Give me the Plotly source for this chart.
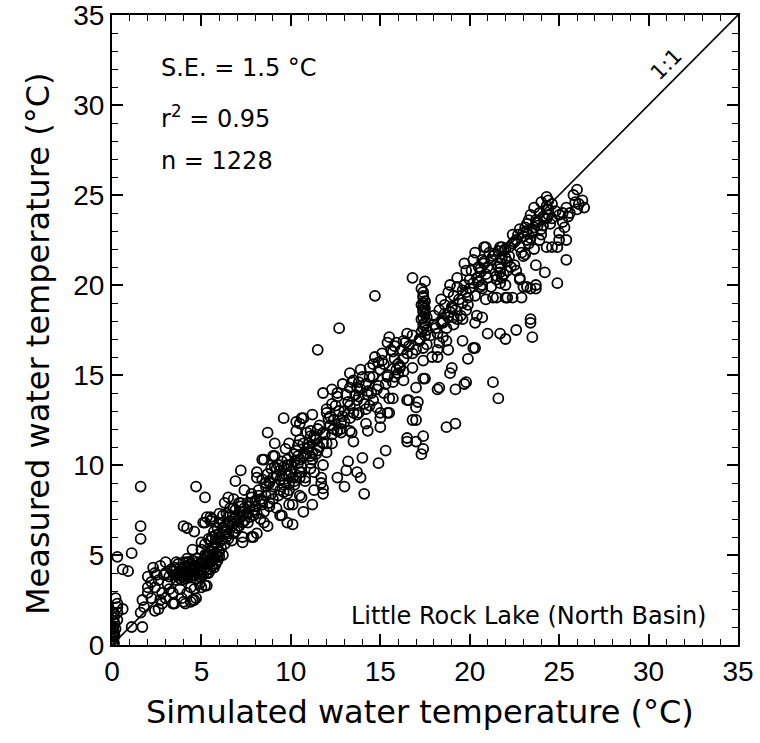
import plotly.graph_objects as go

# ---- data ----
# near-zero cluster
sim_zero = [0.05, 0.1, 0.05, 0.1, 0.05, 0.1, 0.05, 0.1, 0.15, 0.05, 0.1, 0.3, 0.3, 0.6, 0.3, 0.3, 0.2, 0.1, 0.1, 0.15, 0.2]
meas_zero = [0.0, 0.15, 0.3, 0.45, 0.6, 0.75, 0.9, 1.05, 1.2, 1.35, 1.5, 1.4, 1.8, 2.0, 2.1, 2.3, 2.6, 1.7, 0.05, 0.5, 0.9]

# scattered low points / outliers
sim_out = [1.6, 1.6, 1.6, 0.3, 1.1, 0.6, 0.9, 1.1, 1.7, 1.6, 2.4, 4.7, 5.2, 4.0, 4.2, 4.6]
meas_out = [8.8, 6.6, 5.9, 4.9, 5.1, 4.2, 4.1, 1.0, 1.0, 1.8, 1.9, 8.8, 8.2, 6.6, 6.5, 6.3]

# band 1.7 - 6.7 degC
sim_b1 = [1.7, 1.8, 2.0, 2.0, 2.0, 2.3, 2.4, 2.6, 2.7, 2.8, 2.8, 3.0, 3.1, 3.4, 3.4, 3.5, 3.6, 3.9, 4.0, 4.1,
          4.2, 4.4, 4.5, 4.6, 4.6, 4.7, 4.9, 5.0, 5.2, 5.3, 2.2, 2.5, 2.9, 3.2, 3.3, 3.5, 3.7, 3.8, 3.9, 4.0,
          4.1, 4.2, 4.3, 4.3, 4.4, 4.5, 4.6, 4.7, 4.8, 4.9, 5.0, 5.0, 5.1, 5.2, 5.3, 5.4, 5.5, 5.6, 5.7, 5.8,
          4.5, 4.2, 3.6, 3.4, 3.0, 2.7, 2.4, 2.2, 4.8, 5.9, 6.0, 6.2, 5.6, 6.1, 4.5, 4.2, 5.0, 5.2, 5.4, 5.8,
          6.3, 6.5, 6.7, 3.2, 3.8, 4.4, 2.6, 3.0, 3.9]
meas_b1 = [2.5, 2.1, 2.9, 3.2, 3.8, 4.3, 3.2, 3.6, 2.5, 2.3, 2.9, 4.6, 3.4, 2.3, 2.9, 2.3, 4.6, 3.6, 2.4, 2.3,
           2.9, 2.4, 2.5, 3.1, 2.5, 2.6, 3.4, 3.2, 3.3, 3.3, 2.6, 3.9, 3.9, 3.8, 4.2, 3.9, 4.0, 4.3, 3.8, 4.0,
           3.7, 4.1, 3.9, 4.4, 3.8, 4.1, 3.9, 4.3, 4.0, 3.8, 4.2, 4.5, 3.9, 4.3, 4.0, 4.6, 4.2, 4.4, 4.8, 4.5,
           4.7, 4.6, 3.6, 4.1, 4.0, 4.4, 4.0, 3.5, 4.6, 4.9, 5.2, 5.0, 5.4, 5.4, 5.3, 4.8, 5.7, 5.0, 5.2, 5.7,
           5.6, 5.9, 5.8, 3.1, 3.1, 3.2, 2.0, 2.6, 2.6]

# band 5 - 8.5 degC
sim_b2 = [5.1, 5.2, 5.3, 5.5, 5.5, 5.6, 5.6, 6.0, 6.2, 6.2, 6.3, 6.4, 6.5, 6.3, 6.0, 6.8, 6.8, 6.9, 6.9, 7.2,
          7.2, 7.2, 7.3, 7.3, 7.3, 7.4, 7.6, 7.7, 7.8, 7.9, 8.1, 7.0, 6.6, 6.7, 5.9, 5.7, 7.5, 7.9, 8.0, 7.8,
          7.1, 6.9, 6.6, 5.8, 6.4, 7.6, 8.3, 8.5]
meas_b2 = [6.8, 6.8, 7.1, 6.9, 7.1, 7.0, 6.0, 7.3, 6.8, 7.2, 7.9, 7.3, 8.2, 6.4, 6.2, 6.2, 8.1, 7.1, 9.1, 7.7,
           9.7, 7.1, 7.2, 5.7, 6.0, 8.6, 7.9, 7.7, 6.0, 6.0, 6.2, 6.5, 6.9, 6.6, 6.5, 6.3, 7.3, 7.2, 8.0, 8.4,
           7.9, 7.5, 7.6, 5.9, 6.0, 6.8, 7.0, 6.8]

# band 8 - 13 degC
sim_b3 = [8.1, 8.1, 8.3, 8.4, 8.4, 8.5, 8.7, 8.7, 8.8, 8.8, 8.8, 9.0, 9.0, 9.1, 9.1, 9.4, 9.4, 9.4, 9.5, 9.5,
          9.6, 9.8, 9.8, 9.8, 9.9, 9.9, 9.9, 10.1, 10.1, 10.1, 10.3, 10.3, 10.3, 10.5, 10.5, 10.5, 10.5, 10.5, 10.6, 10.6,
          10.7, 10.7, 10.7, 10.8, 10.9, 11.1, 11.1, 11.1, 11.2, 11.2, 11.2, 11.3, 11.5, 11.5, 11.7, 11.7, 11.8, 11.8, 11.8, 11.8,
          11.8, 12.0, 12.0, 12.0, 12.3, 12.3, 12.6, 12.6, 12.6, 8.6, 8.9, 9.2, 9.6, 9.7, 10.0, 10.2, 10.4, 10.9, 11.0, 11.4,
          8.2, 8.6, 9.3, 10.6, 10.2, 9.6, 12.2, 11.6, 12.4, 12.8, 11.3, 9.2, 8.5]
meas_b3 = [9.3, 9.6, 8.1, 9.2, 10.3, 10.3, 6.6, 11.8, 7.7, 7.9, 9.1, 9.3, 10.5, 10.5, 11.2, 8.6, 7.2, 9.2, 9.4, 7.2,
           12.6, 8.4, 6.8, 10.3, 8.6, 11.2, 7.8, 9.3, 6.7, 7.8, 9.3, 11.9, 12.4, 8.3, 9.3, 10.3, 11.4, 12.3, 8.2, 12.6,
           7.4, 10.5, 12.6, 9.1, 11.8, 11.6, 11.9, 10.5, 7.8, 10.3, 12.8, 8.6, 10.8, 12.0, 9.3, 9.0, 8.4, 8.7, 10.0, 11.8,
           14.0, 10.7, 11.2, 13.1, 11.2, 13.4, 9.3, 11.9, 14.0, 8.8, 8.4, 9.8, 9.9, 9.5, 10.0, 10.6, 10.1, 10.9, 11.2, 11.4,
           8.6, 9.0, 10.0, 9.6, 8.9, 8.9, 12.2, 11.0, 12.5, 12.0, 9.6, 7.6, 7.4]

# band 11.5 - 16.8 degC
sim_b4 = [11.5, 12.7, 14.7, 12.2, 12.6, 12.3, 12.9, 13.0, 13.1, 13.3, 13.3, 13.3, 13.3, 13.4, 13.5, 13.7, 13.7, 13.7, 13.9, 13.9,
          13.9, 14.0, 14.0, 14.1, 14.2, 14.2, 14.4, 14.4, 14.6, 14.8, 14.9, 15.0, 15.0, 15.0, 15.0, 15.1, 15.3, 15.4, 15.4, 15.4,
          15.5, 15.5, 15.5, 15.7, 15.7, 15.9, 15.9, 16.0, 16.1, 16.3, 16.3, 16.5, 16.5, 16.5, 16.5, 16.5, 16.6, 16.8, 16.8, 16.8,
          16.8, 12.8, 12.6, 13.0, 13.6, 14.2, 14.5, 14.9, 15.2, 13.8, 12.9, 13.5, 14.7, 15.8, 16.2, 16.6, 14.3, 13.2]
meas_b4 = [16.4, 17.6, 19.4, 12.7, 13.8, 14.2, 12.7, 8.8, 9.7, 11.9, 13.3, 14.3, 15.1, 11.8, 11.3, 9.6, 12.8, 13.6, 9.3, 14.2,
           15.3, 10.4, 14.9, 8.4, 12.3, 13.1, 13.3, 15.4, 14.9, 14.2, 10.1, 12.1, 12.6, 12.9, 15.3, 16.2, 10.8, 12.9, 14.9, 16.8,
           13.7, 17.1, 12.9, 16.3, 13.7, 15.3, 16.8, 15.1, 15.4, 14.7, 16.9, 13.6, 16.2, 17.3, 11.3, 11.5, 13.6, 17.2, 16.2, 15.4,
           12.5, 11.8, 11.9, 13.0, 13.9, 14.5, 14.0, 15.7, 15.6, 14.6, 14.5, 14.7, 16.0, 15.9, 16.4, 16.6, 11.9, 10.2]

# band 17 - 20 degC
sim_b5 = [16.8, 17.5, 17.4, 17.4, 17.4, 17.4, 17.4, 17.4, 17.5, 17.6, 17.4, 17.0, 17.0, 17.0, 17.0, 17.0, 17.1, 17.3, 17.4, 17.4,
          17.4, 17.4, 17.5, 17.9, 18.2, 18.2, 18.2, 18.3, 18.5, 18.5, 18.7, 18.7, 18.8, 18.8, 18.9, 19.0, 19.0, 19.1, 19.2, 19.2,
          19.3, 19.3, 19.6, 19.6, 19.6, 19.7, 19.7, 19.8, 19.8, 19.8, 19.9, 19.9, 18.0, 18.1, 18.3, 18.6, 17.8, 17.2, 18.9, 19.1,
          18.4]
meas_b5 = [20.4, 20.2, 19.6, 19.3, 19.0, 18.8, 18.5, 18.2, 17.9, 18.2, 17.6, 16.4, 14.3, 13.2, 12.5, 11.3, 13.5, 10.6, 10.9, 11.6,
           14.8, 15.8, 14.8, 16.0, 14.2, 16.0, 16.4, 14.3, 17.1, 17.9, 16.9, 12.1, 16.4, 19.6, 15.1, 15.4, 18.8, 18.2, 12.3, 14.2,
           18.1, 19.9, 19.7, 18.1, 16.9, 14.5, 21.2, 14.6, 18.6, 20.8, 15.9, 19.3, 18.3, 17.6, 18.6, 18.9, 17.2, 17.0, 18.5, 19.4,
           19.2]

# band 20 - 26.5 degC
sim_b6 = [20.0, 20.2, 20.2, 20.3, 20.3, 20.3, 20.4, 20.6, 20.6, 20.7, 20.7, 20.7, 20.7, 20.8, 20.8, 20.9, 21.0, 21.3, 21.3, 21.5,
          21.6, 21.7, 21.7, 21.7, 21.7, 21.7, 21.8, 22.0, 22.0, 22.1, 22.1, 22.2, 22.4, 22.6, 22.8, 22.8, 22.8, 22.9, 23.0, 23.0,
          23.0, 23.2, 23.4, 23.4, 23.4, 23.5, 23.7, 23.7, 23.7, 24.2, 24.3, 24.3, 24.3, 24.3, 24.3, 24.4, 24.6, 24.6, 24.9, 24.9,
          25.0, 25.0, 25.2, 25.2, 25.4, 25.4, 25.4, 25.5, 25.8, 26.0, 26.0, 26.3, 26.4, 21.0, 21.3, 21.5, 22.0, 22.3, 22.5, 23.2,
          23.5, 23.8, 24.0, 23.6, 22.9, 24.1, 23.3, 23.9, 21.2, 22.6, 20.5, 21.9, 22.4, 23.1, 20.9]
meas_b6 = [20.3, 16.5, 21.4, 16.5, 17.9, 21.8, 18.3, 19.9, 20.7, 18.2, 19.8, 20.0, 21.4, 21.3, 22.1, 22.1, 17.3, 14.6, 19.3, 19.3,
           13.7, 17.3, 20.1, 20.7, 21.2, 22.1, 22.1, 17.0, 19.3, 19.3, 20.8, 22.1, 19.3, 17.5, 20.3, 20.4, 23.1, 19.3, 19.9, 21.6,
           22.9, 19.9, 17.9, 18.1, 19.8, 17.1, 19.8, 20.0, 21.1, 20.7, 22.1, 23.7, 24.2, 24.4, 24.9, 24.2, 22.1, 23.7, 20.1, 22.1,
           22.5, 22.9, 23.5, 24.0, 21.4, 22.5, 24.3, 23.8, 25.0, 24.2, 25.3, 24.7, 24.3, 21.0, 21.6, 20.5, 21.5, 21.0, 22.4, 22.5,
           23.0, 23.3, 22.8, 22.0, 21.8, 23.8, 23.6, 24.0, 19.9, 20.8, 20.2, 21.9, 22.8, 23.2, 19.2]

# extra points in the densest (solid-black) parts of the band
sim_d1 = [3.5, 3.6, 3.7, 3.8, 3.9, 4.0, 4.1, 4.2, 4.3, 4.4, 4.5, 4.6, 4.7, 4.8, 4.9, 5.0, 5.1, 5.2, 5.3, 5.4,
          5.5, 5.6, 5.7, 5.8, 5.9, 3.6, 3.8, 4.0, 4.3, 4.5, 4.8, 5.0, 5.3, 5.5, 5.8, 6.0, 4.1, 4.6, 5.1, 5.6]
meas_d1 = [4.3, 3.9, 4.5, 3.7, 4.2, 4.6, 4.0, 3.8, 4.3, 4.5, 3.9, 4.4, 3.7, 4.2, 4.5, 3.9, 4.4, 4.7, 4.2, 4.0,
           4.6, 4.9, 4.3, 5.0, 4.7, 4.2, 4.0, 3.8, 4.6, 4.3, 4.8, 4.0, 4.5, 5.0, 5.1, 4.9, 4.4, 4.1, 4.6, 4.7]

sim_d2 = [5.0, 5.2, 5.4, 5.6, 5.8, 6.0, 6.2, 6.4, 6.6, 6.8, 7.0, 7.2, 7.4, 7.6, 7.8, 8.0, 8.2, 8.4, 5.3, 5.7,
          6.1, 6.5, 6.9, 7.3, 7.7, 8.1, 6.0, 6.6, 7.2, 7.8, 5.5, 6.3, 7.1, 7.9, 8.4, 6.8, 7.4, 5.9]
meas_d2 = [5.3, 5.6, 5.9, 5.2, 6.1, 6.0, 6.5, 6.3, 6.8, 7.0, 6.9, 7.4, 7.6, 7.3, 7.9, 7.7, 8.3, 8.0, 5.0, 5.5,
           5.8, 6.2, 6.3, 6.8, 7.1, 7.3, 6.8, 7.2, 7.9, 8.2, 5.8, 6.6, 6.6, 7.5, 7.8, 7.6, 6.9, 5.5]

sim_d3 = [8.6, 8.8, 9.0, 9.2, 9.4, 9.6, 9.8, 10.0, 10.2, 10.4, 10.6, 10.8, 11.0, 11.2, 11.4, 8.7, 9.1, 9.5, 9.9, 10.3,
          10.7, 11.1, 9.0, 9.6, 10.2, 10.8, 11.4, 9.3, 9.9, 10.5, 11.1, 8.9, 9.7, 10.4, 11.3]
meas_d3 = [8.3, 9.0, 8.8, 9.4, 9.7, 9.2, 10.0, 9.6, 10.2, 10.5, 9.9, 10.6, 11.0, 10.7, 11.5, 9.5, 9.9, 10.2, 9.4, 10.8,
           11.2, 10.1, 8.1, 8.5, 9.1, 9.3, 10.6, 8.3, 9.0, 9.6, 9.8, 9.8, 10.9, 11.1, 11.6]

sim_d4 = [11.6, 11.9, 12.1, 12.4, 12.7, 13.0, 13.2, 13.5, 13.8, 14.1, 14.3, 14.6, 14.9, 15.2, 15.4, 15.7, 16.0, 16.3, 11.8, 12.3,
          12.8, 13.3, 13.8, 14.3, 14.8, 15.3, 15.8, 16.3, 12.5, 13.1, 13.7, 14.4, 15.1, 15.8, 16.4, 12.0, 13.4, 14.6, 15.6, 16.1]
meas_d4 = [12.2, 11.7, 12.6, 12.0, 13.0, 12.4, 13.5, 12.9, 13.8, 13.4, 14.1, 13.6, 14.4, 14.0, 15.0, 14.6, 15.6, 15.9, 11.2, 11.7,
           12.3, 12.6, 12.9, 13.9, 13.2, 14.5, 14.9, 15.2, 13.3, 13.9, 14.3, 14.9, 15.8, 16.6, 16.8, 12.9, 14.6, 15.6, 16.4, 15.5]

sim_d5 = [17.3, 17.4, 17.5, 17.3, 17.4, 17.5, 17.3, 17.4, 17.6, 17.5, 17.2, 17.6, 17.3, 17.5, 17.4]
meas_d5 = [19.8, 19.4, 19.1, 18.9, 18.6, 18.4, 18.1, 17.8, 17.5, 17.2, 16.9, 16.7, 17.4, 18.7, 16.5]

sim_d6 = [18.0, 18.2, 18.4, 18.6, 18.8, 19.0, 19.2, 19.4, 19.6, 19.8, 20.0, 20.2, 20.4, 18.3, 18.7, 19.1, 19.5, 19.9, 20.3, 18.9,
          19.3, 19.7, 20.1, 20.5, 18.5]
meas_d6 = [17.8, 17.3, 17.9, 18.4, 18.2, 18.7, 18.6, 19.2, 19.0, 19.6, 19.8, 20.1, 20.4, 16.8, 17.6, 17.8, 18.3, 18.9, 19.4, 20.0,
           20.4, 20.0, 20.8, 21.0, 18.0]

sim_d7 = [20.6, 20.8, 21.0, 21.2, 21.4, 21.6, 21.8, 22.0, 22.2, 22.4, 22.6, 22.8, 23.0, 23.2, 23.4, 23.6, 23.8, 24.0, 24.2, 24.4,
          21.5, 21.7, 21.9, 22.1, 23.1, 23.3, 23.5, 23.7, 23.9, 24.1, 21.6, 21.8, 22.0, 23.2, 23.4, 23.6, 24.0, 24.4, 24.6, 24.8,
          20.9, 21.1, 22.5, 22.7, 24.5, 25.0, 25.3, 25.6, 25.9, 26.1]
meas_d7 = [20.9, 21.2, 20.4, 21.4, 21.7, 21.0, 21.5, 22.0, 21.6, 22.3, 22.5, 22.1, 22.7, 23.0, 22.6, 23.2, 23.5, 23.1, 23.7, 23.9,
           20.3, 20.9, 20.6, 21.3, 21.7, 22.3, 22.9, 23.6, 22.5, 23.3, 21.9, 20.4, 20.0, 23.4, 23.9, 24.3, 24.6, 24.7, 24.5, 24.1,
           20.6, 21.8, 21.1, 22.8, 23.4, 23.9, 23.2, 24.0, 24.6, 24.5]

sim = (sim_zero + sim_out + sim_b1 + sim_b2 + sim_b3 + sim_b4 + sim_b5 + sim_b6
       + sim_d1 + sim_d2 + sim_d3 + sim_d4 + sim_d5 + sim_d6 + sim_d7)
meas = (meas_zero + meas_out + meas_b1 + meas_b2 + meas_b3 + meas_b4 + meas_b5 + meas_b6
        + meas_d1 + meas_d2 + meas_d3 + meas_d4 + meas_d5 + meas_d6 + meas_d7)

one_to_one = [0, 35]

TICKFONT = "Liberation Sans, Arial, sans-serif"
FONT = "DejaVu Sans, Liberation Sans, sans-serif"

fig = go.Figure()
fig.add_trace(go.Scatter(x=one_to_one, y=one_to_one, mode="lines",
                         line=dict(color="black", width=1.6), hoverinfo="skip", showlegend=False))
fig.add_trace(go.Scatter(x=sim, y=meas, mode="markers",
                         marker=dict(symbol="circle-open", size=10, color="black", line=dict(width=1.8)),
                         showlegend=False))

axis_common = dict(range=[0, 35], dtick=5, tick0=0, ticks="inside", ticklen=11, tickwidth=1.5,
                   tickcolor="black", showline=True, linecolor="black", linewidth=2, mirror="ticks",
                   showgrid=False, zeroline=False, automargin=False, ticklabeloverflow="allow",
                   tickfont=dict(family=TICKFONT, size=28, color="black"),
                   minor=dict(dtick=1, ticks="inside", ticklen=6, tickwidth=1.2, tickcolor="black", showgrid=False))

fig.update_layout(
    width=760, height=743,
    margin=dict(l=112, r=22, t=15, b=98),
    paper_bgcolor="white", plot_bgcolor="white",
    xaxis=dict(**axis_common),
    yaxis=dict(**axis_common),
    annotations=[
        dict(text="Simulated water temperature (°C)", xref="paper", yref="paper", x=0.492, y=-0.107,
             showarrow=False, font=dict(family=FONT, size=32, color="black"), xanchor="center", yanchor="middle"),
        dict(text="Measured water temperature (°C)", xref="paper", yref="paper", x=-0.118, y=0.478,
             textangle=-90, showarrow=False, font=dict(family=FONT, size=32, color="black"),
             xanchor="center", yanchor="middle"),
        dict(text="S.E. = 1.5 °C", x=2.6, y=32.05, xanchor="left", yanchor="middle", showarrow=False,
             font=dict(family=FONT, size=24, color="black")),
        dict(text="r<sup>2</sup> = 0.95", x=2.6, y=29.35, xanchor="left", yanchor="middle", showarrow=False,
             font=dict(family=FONT, size=24, color="black")),
        dict(text="n = 1228", x=2.6, y=26.9, xanchor="left", yanchor="middle", showarrow=False,
             font=dict(family=FONT, size=24, color="black")),
        dict(text="Little Rock Lake (North Basin)", x=33.3, y=1.6, xanchor="right", yanchor="middle",
             showarrow=False, font=dict(family=FONT, size=24, color="black")),
        dict(text="1:1", x=31.0, y=32.3, textangle=-45, showarrow=False, xanchor="center", yanchor="middle",
             font=dict(family=FONT, size=21, color="black")),
    ],
)

fig.write_html("out.html")
